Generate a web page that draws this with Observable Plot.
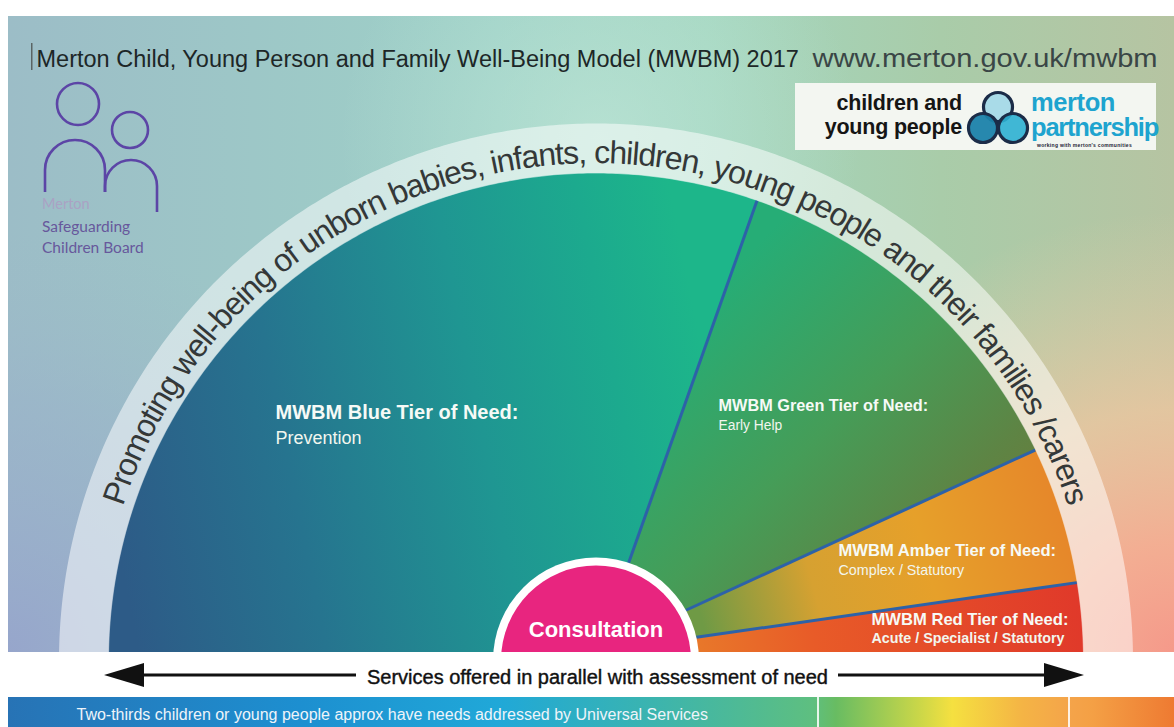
<!DOCTYPE html>
<html>
<head>
<meta charset="utf-8">
<script src="https://cdn.jsdelivr.net/npm/d3@7"></script>
<script src="https://cdn.jsdelivr.net/npm/@observablehq/plot@0.6"></script>
<style>
  html, body { margin: 0; padding: 0; background: #fff; overflow: hidden; }
  #chart svg { display: block; max-width: none !important; }
</style>
</head>
<body>
<div id="chart"></div>
<script>
// ---------------- data ----------------
const titleMain = "Merton Child, Young Person and Family Well-Being Model (MWBM) 2017";
const titleUrl = "www.merton.gov.uk/mwbm";
const arcText = "Promoting well-being of unborn babies, infants, children, young people and their families /carers";
const tierNames = ["Blue", "Green", "Amber", "Red"];
const tierTitles = ["MWBM Blue Tier of Need:", "MWBM Green Tier of Need:", "MWBM Amber Tier of Need:", "MWBM Red Tier of Need:"];
const tierSubtitles = ["Prevention", "Early Help", "Complex / Statutory", "Acute / Specialist / Statutory"];
const tierRimDegrees = [109.3, 45.1, 16.4, 9.2];   // share of the half circle (degrees) at its rim
const dividerHubDegrees = [71.5, 29.2, 13.0];       // angle at which each divider leaves the centre circle
const centreLabel = "Consultation";
const arrowLabel = "Services offered in parallel with assessment of need";
const footerLabel = "Two-thirds children or young people approx have needs addressed by Universal Services";
const leftLogoLines = ["Merton", "Safeguarding", "Children Board"];
const rightLogoLines = ["children and", "young people"];
const rightLogoBrand = ["merton", "partnership", "working with merton's communities"];

// ---------------- layout ----------------
const W = 1174, H = 727;
const FONT = "'Liberation Sans', Arial, Helvetica, sans-serif";
const CX = 595.5, CY = 660, R_HUB = 103, R_PINK = 95, R_IN = 487, R_OUT = 537, R_TEXT = 497;
const ARC_FONT = 32, ARC_SPAN_DEG = 144;
const TOP = 16, LEFT = 8, BOTTOM = 652, BAR_Y = 697;
const tierFill = {Blue: "url(#gBlue)", Green: "url(#gGreen)", Amber: "url(#gAmber)", Red: "url(#gRed)"};
const tierLabelLayout = [
  {x: 275, y: 418, dy: 25, size: 20, subSize: 18, subBold: false},
  {x: 718, y: 410, dy: 19, size: 16.3, subSize: 13.8, subBold: false},
  {x: 838, y: 555, dy: 19, size: 16.6, subSize: 14.3, subBold: false},
  {x: 871, y: 624, dy: 18.5, size: 16.6, subSize: 14.3, subBold: true}
];

const rad = (d) => d * Math.PI / 180;
const polar = (r, a) => [CX + r * Math.cos(rad(a)), CY - r * Math.sin(rad(a))];

const rimBounds = [180];
tierRimDegrees.forEach((d) => rimBounds.push(Math.max(0, rimBounds[rimBounds.length - 1] - d)));
const hubBounds = [180, ...dividerHubDegrees, 0];

const wedgeRows = tierNames.map((name, i) => {
  const a0 = rimBounds[i], a1 = rimBounds[i + 1];
  const pts = [polar(R_HUB - 8, hubBounds[i])];
  const steps = Math.max(2, Math.ceil((a0 - a1) / 0.5));
  for (let k = 0; k <= steps; k++) pts.push(polar(R_IN + 0.5, a0 - (a0 - a1) * k / steps));
  pts.push(polar(R_HUB - 8, hubBounds[i + 1]));
  pts.push(pts[0]);
  return pts.map(([x, y]) => ({tier: name, x, y}));
});

const bandRows = [];
for (let a = 180; a >= 0; a -= 0.5) { const [x, y] = polar(R_OUT, a); bandRows.push({x, y}); }
for (let a = 0; a <= 180; a += 0.5) { const [x, y] = polar(R_IN, a); bandRows.push({x, y}); }
bandRows.push(bandRows[0]);

const dividerRows = dividerHubDegrees.map((h, i) => {
  const [x1, y1] = polar(R_HUB, h);
  const [x2, y2] = polar(R_IN, rimBounds[i + 1]);
  return {x1, y1, x2, y2};
});

// ---------------- decorative render marks ----------------
function backgroundMark() {
  const g = d3.create("svg:g");
  const defs = g.append("defs");
  const addStops = (el, stops) => stops.forEach(([o, c, op = 1]) =>
    el.append("stop").attr("offset", o).attr("stop-color", c).attr("stop-opacity", op));
  const lin = (id, x1, y1, x2, y2, stops) => addStops(defs.append("linearGradient").attr("id", id)
    .attr("gradientUnits", "userSpaceOnUse").attr("x1", x1).attr("y1", y1).attr("x2", x2).attr("y2", y2), stops);
  const radial = (id, cx, cy, r, stops) => addStops(defs.append("radialGradient").attr("id", id)
    .attr("gradientUnits", "userSpaceOnUse").attr("cx", cx).attr("cy", cy).attr("r", r), stops);

  lin("bgH", LEFT, 0, W, 0, [[0, "#9cbdc7"], [0.42, "#9ed1c7"], [0.6, "#a3d6bf"], [0.8, "#a9cca9"], [1, "#b6c4a2"]]);
  radial("bgLav", LEFT, BOTTOM, 420, [[0, "#96a3cc", 0.9], [0.6, "#9aaecb", 0.45], [1, "#9fb8c8", 0]]);
  radial("bgPeach", W, BOTTOM, 440, [[0, "#f5998a", 1], [0.25, "#f6ad92", 0.95], [0.55, "#f1c69f", 0.75], [1, "#e6cfa8", 0]]);
  radial("bgGlow", 600, 140, 260, [[0, "#bfe6d8", 0.7], [1, "#bfe6d8", 0]]);
  lin("gBlue", 120, 560, 720, 440, [[0, "#2d5b87"], [0.3, "#26748f"], [0.62, "#1f9692"], [0.85, "#1caa8e"], [1, "#1db68a"]]);
  lin("gGreen", 720, 280, 1000, 560, [[0, "#26ad76"], [0.45, "#459d58"], [0.8, "#5e8444"], [1, "#6c7a3a"]]);
  lin("gAmber", 700, 615, 1075, 515, [[0, "#6f9a45"], [0.3, "#d6a131"], [0.6, "#e6a02a"], [1, "#e6852a"]]);
  lin("gRed", 700, 650, 1080, 600, [[0, "#e8772a"], [0.3, "#e85b28"], [1, "#e0392a"]]);
  lin("gBar", LEFT, 0, W, 0, [[0, "#2773b5"], [0.25, "#1d8fd0"], [0.42, "#20a8d8"], [0.54, "#38b3b3"], [0.69, "#5ebf80"],
    [0.71, "#68bc62"], [0.78, "#c8d649"], [0.81, "#f5e040"], [0.87, "#f4b445"], [0.91, "#f4a44a"], [0.93, "#f4a045"], [1, "#ee7a32"]]);

  const rect = (x, y, w, h, fill) => g.append("rect").attr("x", x).attr("y", y).attr("width", w).attr("height", h).attr("fill", fill);
  rect(LEFT, TOP, W - LEFT, BOTTOM - TOP, "url(#bgH)");
  rect(LEFT, TOP, W - LEFT, BOTTOM - TOP, "url(#bgLav)");
  rect(LEFT, TOP, W - LEFT, BOTTOM - TOP, "url(#bgGlow)");
  rect(LEFT, TOP, W - LEFT, BOTTOM - TOP, "url(#bgPeach)");
  return g.node();
}

// curved caption: one textPath per word, spaced evenly along the arc
function arcTextMark(index, scales) {
  const cx = scales.x(CX), cy = scales.y(CY), r = R_TEXT;
  const g = d3.create("svg:g");
  g.append("defs").append("path").attr("id", "arcPath")
    .attr("d", `M${cx - r},${cy} A${r},${r} 0 0 1 ${cx + r},${cy}`);
  const ctx = document.createElement("canvas").getContext("2d");
  ctx.font = `${ARC_FONT}px 'Liberation Sans', Arial, sans-serif`;
  const words = arcText.split(" ");
  const spaceW = ctx.measureText(" ").width;
  const natural = ctx.measureText(arcText).width;
  const target = r * rad(ARC_SPAN_DEG);
  const extra = (target - natural) / (arcText.length - 1);
  let offset = Math.PI * r / 2 - target / 2;
  const textG = g.append("g").attr("font-family", FONT).attr("font-size", ARC_FONT).attr("fill", "#343838");
  words.forEach((w) => {
    const len = ctx.measureText(w).width + extra * (w.length - 1);
    textG.append("text").attr("text-anchor", "start")
      .append("textPath").attr("href", "#arcPath").attr("startOffset", offset)
      .attr("textLength", len).attr("lengthAdjust", "spacing").text(w);
    offset += len + spaceW + 2 * extra;
  });
  return g.node();
}

function frontMark() {
  const g = d3.create("svg:g");
  // white strip and bottom bar
  g.append("rect").attr("x", 0).attr("y", BOTTOM).attr("width", W).attr("height", BAR_Y - BOTTOM).attr("fill", "#fff");
  g.append("rect").attr("x", LEFT).attr("y", BAR_Y).attr("width", W - LEFT).attr("height", H - BAR_Y).attr("fill", "url(#gBar)");
  [818, 1069].forEach((x) => g.append("rect").attr("x", x - 1).attr("y", BAR_Y).attr("width", 2).attr("height", H - BAR_Y).attr("fill", "#fff").attr("opacity", 0.85));
  // arrows
  const ay = 675;
  g.append("line").attr("x1", 140).attr("x2", 356).attr("y1", ay).attr("y2", ay).attr("stroke", "#111").attr("stroke-width", 3);
  g.append("line").attr("x1", 838).attr("x2", 1050).attr("y1", ay).attr("y2", ay).attr("stroke", "#111").attr("stroke-width", 3);
  g.append("path").attr("d", `M104,${ay} L144,${ay - 12} L144,${ay + 12} Z`).attr("fill", "#111");
  g.append("path").attr("d", `M1084,${ay} L1044,${ay - 12} L1044,${ay + 12} Z`).attr("fill", "#111");
  // cursor mark before the title
  g.append("rect").attr("x", 31).attr("y", 43).attr("width", 1.5).attr("height", 27).attr("fill", "#5a6464");

  // left logo (Merton Safeguarding Children Board)
  const purple = "#5c45a6";
  const lg = g.append("g").attr("fill", "none").attr("stroke", purple).attr("stroke-width", 2.6);
  lg.append("circle").attr("cx", 78).attr("cy", 104).attr("r", 21);
  lg.append("circle").attr("cx", 130).attr("cy", 130).attr("r", 18);
  lg.append("path").attr("d", "M45,192 L45,170 A30,30 0 0 1 105,170 L105,192");
  lg.append("path").attr("d", "M105,192 L105,186 A26,26 0 0 1 157,186 L157,212");
  const lt = g.append("g").attr("font-family", "Lato, 'Open Sans', sans-serif").attr("text-anchor", "start");
  lt.append("text").attr("x", 42).attr("y", 209).attr("font-size", 14.5).attr("fill", "#aaa2c4").text(leftLogoLines[0]);
  lt.append("text").attr("x", 42).attr("y", 232).attr("font-size", 15.5).attr("fill", "#67589c").text(leftLogoLines[1]);
  lt.append("text").attr("x", 42).attr("y", 253).attr("font-size", 15.5).attr("fill", "#67589c").text(leftLogoLines[2]);

  // right logo (children and young people / merton partnership)
  g.append("rect").attr("x", 795).attr("y", 83).attr("width", 361).attr("height", 67).attr("fill", "#f3f6f1");
  const rt = g.append("g").attr("font-family", FONT).attr("font-weight", "bold").attr("text-anchor", "end").attr("fill", "#151515");
  rt.append("text").attr("x", 962).attr("y", 110).attr("font-size", 21.5).attr("letter-spacing", -0.2).text(rightLogoLines[0]);
  rt.append("text").attr("x", 962).attr("y", 134).attr("font-size", 21.5).attr("letter-spacing", -0.2).text(rightLogoLines[1]);
  const ring = g.append("g").attr("stroke", "#1b2c48").attr("stroke-width", 3.2);
  ring.append("circle").attr("cx", 998).attr("cy", 107).attr("r", 14.5).attr("fill", "#a9dbe8");
  ring.append("circle").attr("cx", 983).attr("cy", 128).attr("r", 14.5).attr("fill", "#1b82aa").attr("fill-opacity", 0.95);
  ring.append("circle").attr("cx", 1013).attr("cy", 128).attr("r", 14.5).attr("fill", "#2cb0d2").attr("fill-opacity", 0.9);
  const bt = g.append("g").attr("font-family", FONT).attr("font-weight", "bold").attr("text-anchor", "start").attr("fill", "#1ea4cf");
  bt.append("text").attr("x", 1031).attr("y", 111).attr("font-size", 25.5).attr("letter-spacing", -0.4).text(rightLogoBrand[0]);
  bt.append("text").attr("x", 1031).attr("y", 136).attr("font-size", 25.5).attr("letter-spacing", -1.2).text(rightLogoBrand[1]);
  bt.append("text").attr("x", 1037).attr("y", 147).attr("font-size", 5).attr("fill", "#223").attr("letter-spacing", 0.3).text(rightLogoBrand[2]);
  return g.node();
}

// ---------------- marks ----------------
const txt = (s, o) => Plot.text([s], {text: (d) => d, fontFamily: FONT, lineAnchor: "bottom", ...o});

const marks = [
  backgroundMark,
  ...wedgeRows.map((rows, i) => Plot.line(rows, {x: "x", y: "y", fill: tierFill[tierNames[i]], stroke: "none", curve: "linear"})),
  Plot.line(bandRows, {x: "x", y: "y", fill: "#ffffff", fillOpacity: 0.52, stroke: "none"}),
  arcTextMark,
  Plot.link(dividerRows, {x1: "x1", y1: "y1", x2: "x2", y2: "y2", stroke: "#2d62a8", strokeWidth: 3}),
  Plot.dot([{x: CX, y: CY}], {x: "x", y: "y", r: R_HUB, fill: "#ffffff", stroke: "none"}),
  Plot.dot([{x: CX, y: CY}], {x: "x", y: "y", r: R_PINK, fill: "#e8257f", stroke: "none"}),
  txt(centreLabel, {x: CX, y: 636, fontSize: 22, fontWeight: "bold", fill: "#ffffff", textAnchor: "middle"}),
  ...tierTitles.map((t, i) => txt(t, {x: tierLabelLayout[i].x, y: tierLabelLayout[i].y, fontSize: tierLabelLayout[i].size,
    fontWeight: "bold", fill: "#f6faf6", textAnchor: "start"})),
  ...tierSubtitles.map((t, i) => txt(t, {x: tierLabelLayout[i].x, y: tierLabelLayout[i].y + tierLabelLayout[i].dy,
    fontSize: tierLabelLayout[i].subSize, fontWeight: tierLabelLayout[i].subBold ? "bold" : "normal", fill: "#f2f6ee", textAnchor: "start"})),
  frontMark,
  txt(titleMain, {x: 36, y: 66, fontSize: 23.5, fill: "#1d2727", textAnchor: "start"}),
  txt(titleUrl, {x: 1157, y: 66, fontSize: 25.5, fill: "#3a4646", textAnchor: "end"}),
  txt(arrowLabel, {x: 597, y: 683, fontSize: 20, fill: "#111111", stroke: "#111111", strokeWidth: 0.4, textAnchor: "middle"}),
  txt(footerLabel, {x: 76, y: 719, fontSize: 16, fill: "#eef4fa", textAnchor: "start"})
];

const plot = Plot.plot({
  width: W, height: H, margin: 0,
  style: {background: "white"},
  x: {type: "linear", domain: [0, W], range: [0, W], axis: null},
  y: {type: "linear", domain: [0, H], range: [0, H], axis: null},
  marks
});
d3.select(plot).selectAll("text").filter(function () { return this.textContent === titleUrl; })
  .attr("textLength", 345).attr("lengthAdjust", "spacingAndGlyphs");
document.getElementById("chart").append(plot);
</script>
</body>
</html>
